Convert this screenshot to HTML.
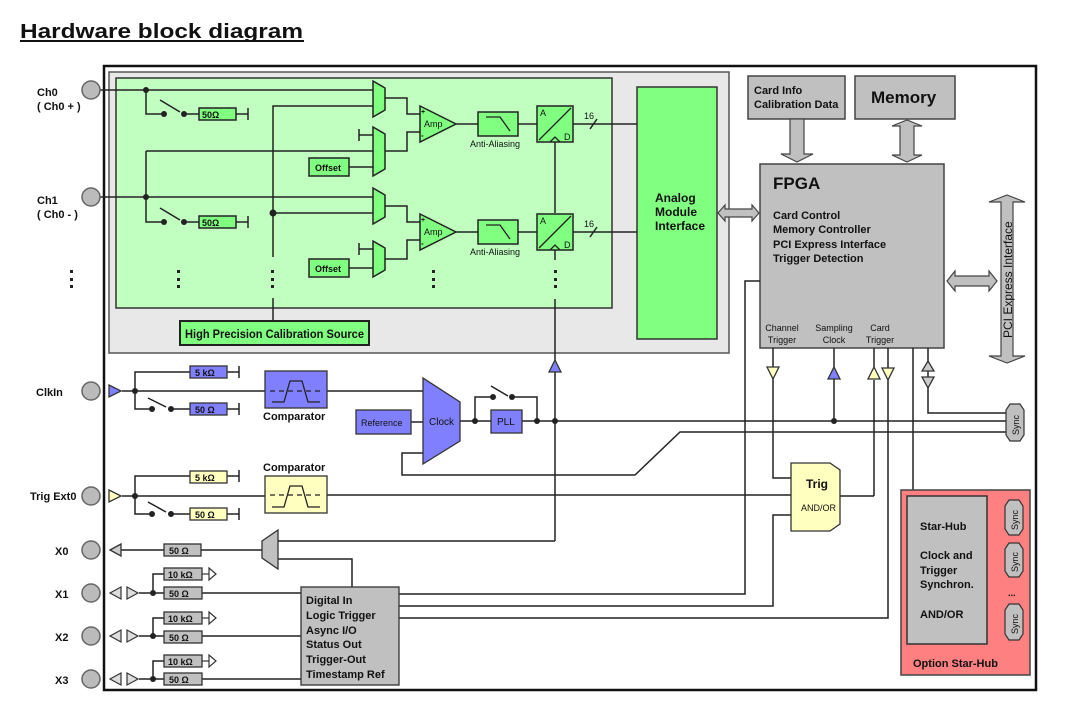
<!DOCTYPE html>
<html><head><meta charset="utf-8"><style>
body{margin:0;background:#fff}
svg{display:block}
text{font-family:"Liberation Sans",sans-serif;font-weight:bold;fill:#111}
</style></head><body>
<svg width="1080" height="707" viewBox="0 0 1080 707" xmlns="http://www.w3.org/2000/svg">
<text x="20" y="38" font-size="20" textLength="283" lengthAdjust="spacingAndGlyphs" style="font-weight:bold">Hardware block diagram</text>
<line x1="20" y1="41" x2="304" y2="41" stroke="#111" stroke-width="2"/>

<rect x="104" y="66" width="932" height="624" fill="#fff" stroke="#111" stroke-width="2.5"/>
<rect x="109" y="72" width="620" height="281" fill="#e8e8e8" stroke="#555" stroke-width="1.5"/>
<rect x="116" y="78" width="496" height="230" fill="#c0ffc0" stroke="#333" stroke-width="1.5"/>
<rect x="637" y="87" width="80" height="252" fill="#80ff80" stroke="#333" stroke-width="1.5"/>
<text x="655" y="202" font-size="12">Analog</text>
<text x="655" y="216" font-size="12">Module</text>
<text x="655" y="230" font-size="12">Interface</text>
<rect x="180" y="321" width="189" height="24" fill="#80ff80" stroke="#222" stroke-width="2"/>
<text x="185" y="338" font-size="12" textLength="179" lengthAdjust="spacingAndGlyphs">High Precision Calibration Source</text>

<g stroke="#222" stroke-width="1.5" fill="none">
<line x1="100" y1="90" x2="373" y2="90"/>
<polyline points="146,90 146,114 164,114"/>
<line x1="184" y1="114" x2="199" y2="114"/>
<line x1="160" y1="100" x2="180" y2="112"/>
<line x1="236" y1="114" x2="248" y2="114"/>
<line x1="100" y1="197" x2="373" y2="197"/>
<polyline points="146,151 146,222 164,222"/>
<line x1="146" y1="151" x2="373" y2="151"/>
<line x1="184" y1="222" x2="199" y2="222"/>
<line x1="160" y1="208" x2="180" y2="220"/>
<line x1="236" y1="222" x2="248" y2="222"/>
<polyline points="373,106 273,106 273,257"/>
<line x1="273" y1="298" x2="273" y2="321"/>
<line x1="273" y1="213" x2="373" y2="213"/>
<line x1="359" y1="129" x2="359" y2="141"/><line x1="359" y1="135" x2="373" y2="135"/>
<line x1="349" y1="167" x2="373" y2="167"/>
<line x1="359" y1="243" x2="359" y2="255"/><line x1="359" y1="249" x2="373" y2="249"/>
<line x1="349" y1="268" x2="373" y2="268"/>
<polyline points="385,98 407,98 407,114 420,114"/>
<polyline points="385,151 407,151 407,132 420,132"/>
<polyline points="385,206 407,206 407,222 420,222"/>
<polyline points="385,259 407,259 407,240 420,240"/>
<line x1="456" y1="124" x2="478" y2="124"/><line x1="518" y1="124" x2="537" y2="124"/>
<line x1="456" y1="232" x2="478" y2="232"/><line x1="518" y1="232" x2="537" y2="232"/>
<line x1="573" y1="124" x2="637" y2="124"/><line x1="573" y1="232" x2="637" y2="232"/>
<line x1="590" y1="129" x2="597" y2="119"/><line x1="590" y1="237" x2="597" y2="227"/>
<line x1="555" y1="142" x2="555" y2="213"/>
<line x1="555" y1="250" x2="555" y2="260"/>
<line x1="555" y1="299" x2="555" y2="541"/>
</g>
<g stroke="#222" stroke-width="1.5">
<line x1="248" y1="108" x2="248" y2="120"/><line x1="248" y1="216" x2="248" y2="228"/>
</g>
<g fill="#222">
<rect x="70" y="270" width="3" height="3"/><rect x="70" y="278" width="3" height="3"/><rect x="70" y="285" width="3" height="3"/>
<rect x="177" y="270" width="3" height="3"/><rect x="177" y="278" width="3" height="3"/><rect x="177" y="285" width="3" height="3"/>
<rect x="271" y="270" width="3" height="3"/><rect x="271" y="278" width="3" height="3"/><rect x="271" y="285" width="3" height="3"/>
<rect x="432" y="270" width="3" height="3"/><rect x="432" y="278" width="3" height="3"/><rect x="432" y="285" width="3" height="3"/>
<rect x="554" y="270" width="3" height="3"/><rect x="554" y="278" width="3" height="3"/><rect x="554" y="285" width="3" height="3"/>
<circle cx="146" cy="90" r="3"/><circle cx="146" cy="197" r="3"/><circle cx="273" cy="213" r="3.5"/>
<circle cx="164" cy="114" r="3"/><circle cx="184" cy="114" r="3"/>
<circle cx="164" cy="222" r="3"/><circle cx="184" cy="222" r="3"/>
</g>
<g fill="#bbb" stroke="#666" stroke-width="1.5">
<circle cx="91" cy="90" r="9"/><circle cx="91" cy="197" r="9"/>
<circle cx="91" cy="391" r="9"/><circle cx="91" cy="496" r="9"/>
<circle cx="91" cy="550" r="9"/><circle cx="91" cy="593" r="9"/><circle cx="91" cy="636" r="9"/><circle cx="91" cy="679" r="9"/>
</g>
<g font-size="11">
<text x="37" y="96">Ch0</text><text x="37" y="110">( Ch0 + )</text>
<text x="37" y="204">Ch1</text><text x="37" y="218">( Ch0 - )</text>
<text x="36" y="396">ClkIn</text>
<text x="30" y="500">Trig Ext0</text>
<text x="55" y="555">X0</text><text x="55" y="598">X1</text><text x="55" y="641">X2</text><text x="55" y="684">X3</text>
</g>

<g fill="#80ff80" stroke="#222" stroke-width="1.5">
<rect x="199" y="108" width="37" height="12"/><rect x="199" y="216" width="37" height="12"/>
<polygon points="373,81 385,88 385,110 373,117"/>
<polygon points="373,127 385,134 385,169 373,176"/>
<polygon points="373,188 385,195 385,217 373,224"/>
<polygon points="373,241 385,248 385,270 373,277"/>
<rect x="309" y="158" width="40" height="18"/><rect x="309" y="259" width="40" height="18"/>
<polygon points="420,106 456,124 420,142"/><polygon points="420,214 456,232 420,250"/>
<rect x="478" y="112" width="40" height="24"/><rect x="478" y="220" width="40" height="24"/>
<rect x="537" y="106" width="36" height="36"/><rect x="537" y="214" width="36" height="36"/>
</g>
<g stroke="#222" stroke-width="1.3" fill="none">
<polyline points="486,117 500,117 510,131"/><polyline points="486,225 500,225 510,239"/>
<line x1="539" y1="140" x2="571" y2="108"/><line x1="539" y1="248" x2="571" y2="216"/>
<polyline points="550,142 555,137 560,142"/><polyline points="550,250 555,245 560,250"/>
</g>
<g font-size="9">
<text x="202" y="118">50Ω</text><text x="202" y="226">50Ω</text>
<text x="315" y="171">Offset</text><text x="315" y="272">Offset</text>
<text x="424" y="127" style="font-weight:normal">Amp</text><text x="424" y="235" style="font-weight:normal">Amp</text>
<text x="421" y="114" font-size="7">+</text><text x="421" y="138" font-size="8">-</text>
<text x="421" y="222" font-size="7">+</text><text x="421" y="246" font-size="8">-</text>
<text x="470" y="147" style="font-weight:normal">Anti-Aliasing</text><text x="470" y="255" style="font-weight:normal">Anti-Aliasing</text>
<text x="540" y="116" style="font-weight:normal">A</text><text x="564" y="140" style="font-weight:normal">D</text>
<text x="540" y="224" style="font-weight:normal">A</text><text x="564" y="248" style="font-weight:normal">D</text>
<text x="584" y="119" style="font-weight:normal">16</text><text x="584" y="227" style="font-weight:normal">16</text>
</g>

<rect x="748" y="76" width="97" height="43" fill="#c0c0c0" stroke="#444" stroke-width="1.5"/>
<text x="754" y="94" font-size="11">Card Info</text><text x="754" y="108" font-size="11">Calibration Data</text>
<rect x="855" y="76" width="100" height="43" fill="#c0c0c0" stroke="#444" stroke-width="1.5"/>
<text x="871" y="103" font-size="17">Memory</text>
<rect x="760" y="164" width="184" height="184" fill="#c0c0c0" stroke="#444" stroke-width="1.5"/>
<text x="773" y="189" font-size="17">FPGA</text>
<g font-size="11"><text x="773" y="219">Card Control</text><text x="773" y="233">Memory Controller</text><text x="773" y="248">PCI Express Interface</text><text x="773" y="262">Trigger Detection</text></g>
<g font-size="9" text-anchor="middle">
<text x="782" y="331" style="font-weight:normal">Channel</text><text x="782" y="343" style="font-weight:normal">Trigger</text>
<text x="834" y="331" style="font-weight:normal">Sampling</text><text x="834" y="343" style="font-weight:normal">Clock</text>
<text x="880" y="331" style="font-weight:normal">Card</text><text x="880" y="343" style="font-weight:normal">Trigger</text>
</g>
<g fill="#c0c0c0" stroke="#444" stroke-width="1.2">
<polygon points="790,119 804,119 804,154 813,154 797,162 781,154 790,154"/>
<polygon points="900,126 892,126 907,120 922,126 914,126 914,155 922,155 907,162 892,155 900,155"/>
<polygon points="718,213 725,205 725,209 752,209 752,205 759,213 752,221 752,217 725,217 725,221"/>
<polygon points="947,281 955,271 955,276 989,276 989,271 997,281 989,291 989,286 955,286 955,291"/>
<polygon points="1007,195 1025,202 1013,202 1013,356 1025,356 1007,363 989,356 1001,356 1001,202 989,202"/>
</g>
<text transform="translate(1012,338) rotate(-90)" font-size="12" style="font-weight:normal" fill="#111">PCI Express Interface</text>

<g stroke="#222" stroke-width="1.5" fill="none">
<line x1="122" y1="391" x2="265" y2="391"/>
<polyline points="190,372 135,372 135,409 152,409"/>
<line x1="171" y1="409" x2="190" y2="409"/>
<line x1="148" y1="398" x2="166" y2="407"/>
<line x1="227" y1="372" x2="239" y2="372"/><line x1="239" y1="366" x2="239" y2="378"/>
<line x1="227" y1="409" x2="239" y2="409"/><line x1="239" y1="403" x2="239" y2="415"/>
<line x1="327" y1="391" x2="423" y2="391"/>
<line x1="411" y1="422" x2="423" y2="422"/>
<polyline points="423,453 402,453 402,475 635,475 680,432 1006,432"/>
<line x1="460" y1="421" x2="491" y2="421"/>
<line x1="522" y1="421" x2="1006" y2="421"/>
<polyline points="475,421 475,397 493,397"/><polyline points="512,397 537,397 537,421"/>
<line x1="491" y1="386" x2="508" y2="396"/>
<line x1="122" y1="496" x2="265" y2="496"/>
<polyline points="190,476 135,476 135,514 152,514"/>
<line x1="171" y1="514" x2="190" y2="514"/>
<line x1="148" y1="502" x2="166" y2="512"/>
<line x1="227" y1="476" x2="239" y2="476"/><line x1="239" y1="470" x2="239" y2="482"/>
<line x1="227" y1="514" x2="239" y2="514"/><line x1="239" y1="508" x2="239" y2="520"/>
<line x1="327" y1="495" x2="791" y2="495"/>
<line x1="840" y1="496" x2="874" y2="496"/><line x1="874" y1="496" x2="874" y2="380"/>
<polyline points="773,367 773,478 791,478"/>
<polyline points="791,515 773,515 773,606 399,606"/>
<line x1="773" y1="348" x2="773" y2="367"/>
<line x1="834" y1="348" x2="834" y2="421"/>
<line x1="874" y1="348" x2="874" y2="367"/>
<polyline points="888,348 888,618 399,618"/>
<line x1="913" y1="348" x2="913" y2="494"/>
<polyline points="928,348 928,413 1006,413"/>
<polyline points="760,281 745,281 745,594 399,594"/>
<polyline points="110,550 164,550"/><line x1="201" y1="550" x2="262" y2="550"/>
<polyline points="278,541 555,541"/>
<polyline points="278,559 352,559 352,587"/>
<line x1="139" y1="593" x2="301" y2="593"/><polyline points="164,574 153,574 153,593"/>
<line x1="139" y1="636" x2="301" y2="636"/><polyline points="164,618 153,618 153,636"/>
<line x1="139" y1="679" x2="301" y2="679"/><polyline points="164,661 153,661 153,679"/>
<line x1="987" y1="508" x2="1005" y2="508"/><line x1="987" y1="514" x2="1005" y2="514"/><line x1="987" y1="520" x2="1005" y2="520"/><line x1="987" y1="526" x2="1005" y2="526"/>
<line x1="987" y1="550" x2="1005" y2="550"/><line x1="987" y1="556" x2="1005" y2="556"/><line x1="987" y1="562" x2="1005" y2="562"/><line x1="987" y1="568" x2="1005" y2="568"/>
<line x1="987" y1="611" x2="1005" y2="611"/><line x1="987" y1="617" x2="1005" y2="617"/><line x1="987" y1="623" x2="1005" y2="623"/><line x1="987" y1="629" x2="1005" y2="629"/>
</g>
<g fill="#222">
<circle cx="135" cy="391" r="3"/><circle cx="152" cy="409" r="3"/><circle cx="171" cy="409" r="3"/>
<circle cx="135" cy="496" r="3"/><circle cx="152" cy="514" r="3"/><circle cx="171" cy="514" r="3"/>
<circle cx="475" cy="421" r="3"/><circle cx="537" cy="421" r="3"/><circle cx="555" cy="421" r="3"/>
<circle cx="493" cy="397" r="3"/><circle cx="512" cy="397" r="3"/><circle cx="834" cy="421" r="3"/>
<circle cx="153" cy="593" r="3"/><circle cx="153" cy="636" r="3"/><circle cx="153" cy="679" r="3"/>
</g>
<g stroke="#333" stroke-width="1.3">
<polygon points="109,385 121,391 109,397" fill="#8080ff"/>
<polygon points="109,490 121,496 109,502" fill="#ffffc0"/>
<rect x="190" y="366" width="37" height="12" fill="#8080ff"/>
<rect x="190" y="403" width="37" height="12" fill="#8080ff"/>
<rect x="265" y="371" width="62" height="37" fill="#8080ff"/>
<rect x="356" y="410" width="55" height="24" fill="#8080ff"/>
<polygon points="423,378 460,402 460,441 423,464" fill="#8080ff"/>
<rect x="491" y="410" width="31" height="23" fill="#8080ff"/>
<polygon points="555,360 561,372 549,372" fill="#8080ff"/>
<rect x="190" y="471" width="37" height="12" fill="#ffffc0"/>
<rect x="190" y="508" width="37" height="12" fill="#ffffc0"/>
<rect x="265" y="476" width="62" height="37" fill="#ffffc0"/>
<polygon points="767,367 779,367 773,379" fill="#ffffc0"/>
<polygon points="834,367 840,379 828,379" fill="#8080ff"/>
<polygon points="874,367 880,379 868,379" fill="#ffffc0"/>
<polygon points="882,368 894,368 888,380" fill="#ffffc0"/>
<polygon points="928,361 934,371 922,371" fill="#ccc"/>
<polygon points="922,377 934,377 928,388" fill="#ccc"/>
<polygon points="791,463 830,463 840,470 840,524 830,531 791,531" fill="#ffffc0"/>
<polygon points="110,550 121,544 121,556" fill="#ccc"/>
<rect x="164" y="544" width="37" height="12" fill="#c0c0c0"/>
<polygon points="262,541 278,530 278,569 262,558" fill="#c0c0c0"/>
<rect x="301" y="587" width="98" height="98" fill="#c0c0c0"/>
</g>
<g stroke="#333" stroke-width="1.2" fill="#ddd">
<polygon points="110,593 121,587 121,599"/><polygon points="127,587 138,593 127,599"/>
<polygon points="110,636 121,630 121,642"/><polygon points="127,630 138,636 127,642"/>
<polygon points="110,679 121,673 121,685"/><polygon points="127,673 138,679 127,685"/>
</g>
<g stroke="#333" stroke-width="1.3" fill="#c0c0c0">
<rect x="164" y="568" width="38" height="12"/><rect x="164" y="587" width="38" height="12"/>
<rect x="164" y="612" width="38" height="12"/><rect x="164" y="631" width="38" height="12"/>
<rect x="164" y="655" width="38" height="12"/><rect x="164" y="673" width="38" height="12"/>
</g>
<g stroke="#333" stroke-width="1.2" fill="#fff">
<line x1="202" y1="574" x2="209" y2="574"/><polygon points="209,568 216,574 209,580"/>
<line x1="202" y1="618" x2="209" y2="618"/><polygon points="209,612 216,618 209,624"/>
<line x1="202" y1="661" x2="209" y2="661"/><polygon points="209,655 216,661 209,667"/>
</g>
<g stroke="#222" stroke-width="1.3" fill="none">
<polyline points="272,402 284,402 290,381 302,381 308,402 320,402"/>
<line x1="270" y1="391" x2="322" y2="391" stroke-dasharray="5,4"/>
<polyline points="272,507 284,507 290,486 302,486 308,507 320,507"/>
<line x1="270" y1="495" x2="322" y2="495" stroke-dasharray="5,4"/>
</g>
<g font-size="9">
<text x="195" y="376">5 kΩ</text><text x="195" y="413">50 Ω</text>
<text x="195" y="481">5 kΩ</text><text x="195" y="518">50 Ω</text>
<text x="169" y="554">50 Ω</text>
<text x="168" y="578">10 kΩ</text><text x="169" y="597">50 Ω</text>
<text x="168" y="622">10 kΩ</text><text x="169" y="641">50 Ω</text>
<text x="168" y="665">10 kΩ</text><text x="169" y="683">50 Ω</text>
<text x="361" y="426" style="font-weight:normal">Reference</text>
<text x="429" y="425" font-size="10" style="font-weight:normal">Clock</text>
<text x="497" y="425" font-size="10" style="font-weight:normal">PLL</text>
<text x="801" y="511" style="font-weight:normal">AND/OR</text>
</g>
<text x="263" y="420" font-size="11">Comparator</text>
<text x="263" y="471" font-size="11">Comparator</text>
<text x="806" y="488" font-size="12">Trig</text>
<g font-size="11"><text x="306" y="604">Digital In</text><text x="306" y="619">Logic Trigger</text><text x="306" y="634">Async I/O</text><text x="306" y="648">Status Out</text><text x="306" y="663">Trigger-Out</text><text x="306" y="678">Timestamp Ref</text></g>

<rect x="901" y="490" width="129" height="185" fill="#ff8080" stroke="#444" stroke-width="1.5"/>
<rect x="907" y="496" width="80" height="148" fill="#c0c0c0" stroke="#333" stroke-width="1.5"/>
<g font-size="11"><text x="920" y="530">Star-Hub</text><text x="920" y="559">Clock and</text><text x="920" y="574">Trigger</text><text x="920" y="588">Synchron.</text><text x="920" y="618">AND/OR</text></g>
<text x="913" y="667" font-size="11">Option Star-Hub</text>
<text x="1008" y="596" font-size="9">...</text>
<g fill="#c0c0c0" stroke="#333" stroke-width="1.2">
<polygon points="1010,404 1020,404 1024,410 1024,435 1020,441 1010,441 1006,435 1006,410"/>
<polygon points="1009,500 1019,500 1023,506 1023,529 1019,535 1009,535 1005,529 1005,506"/>
<polygon points="1009,543 1019,543 1023,549 1023,571 1019,577 1009,577 1005,571 1005,549"/>
<polygon points="1009,604 1019,604 1023,610 1023,634 1019,640 1009,640 1005,634 1005,610"/>
</g>
<g font-size="9">
<text transform="translate(1019,435) rotate(-90)" style="font-weight:normal">Sync</text>
<text transform="translate(1018,530) rotate(-90)" style="font-weight:normal">Sync</text>
<text transform="translate(1018,572) rotate(-90)" style="font-weight:normal">Sync</text>
<text transform="translate(1018,634) rotate(-90)" style="font-weight:normal">Sync</text>
</g>
</svg>
</body></html>
